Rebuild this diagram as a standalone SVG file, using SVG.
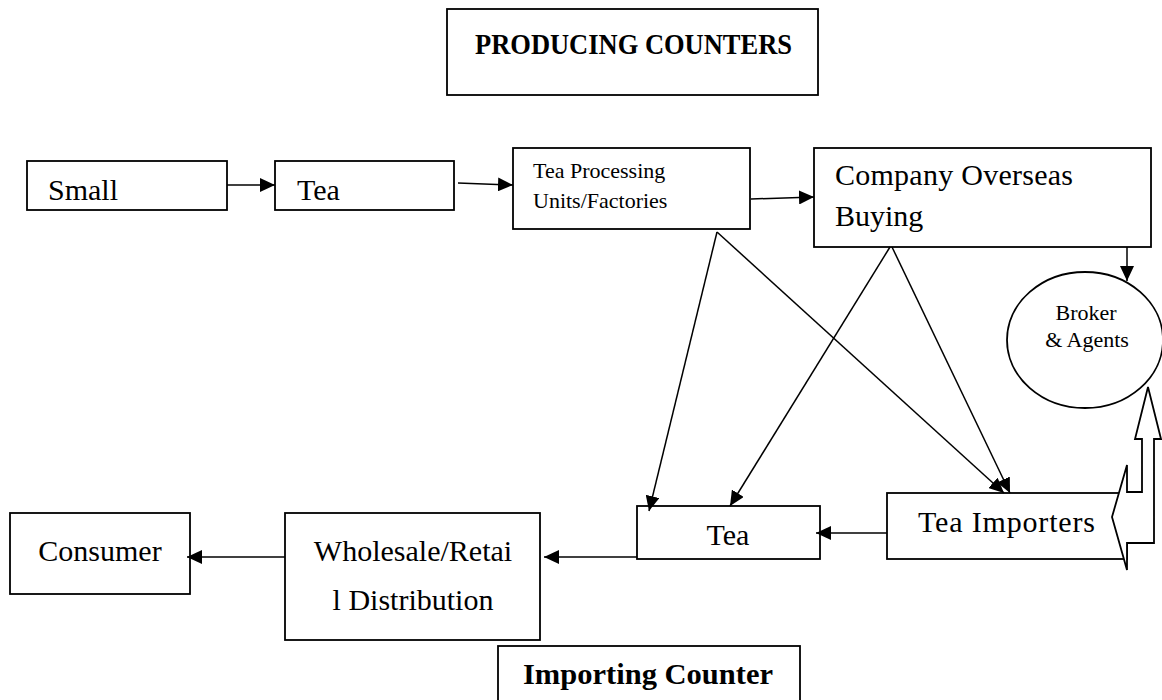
<svg xmlns="http://www.w3.org/2000/svg" width="1162" height="700" viewBox="0 0 1162 700">
<style>
.box{fill:#fff;stroke:#000;stroke-width:1.8}
.t{font-family:"Liberation Serif","Times New Roman",serif;fill:#000}
.big{font-size:30px}
.sm{font-size:22px}
.ttl{font-size:30px;font-weight:bold}
.c{stroke:#000;stroke-width:1.5;fill:none;marker-end:url(#ah)}
</style>
<defs>
<marker id="ah" markerUnits="userSpaceOnUse" markerWidth="16" markerHeight="14" refX="15" refY="7" orient="auto">
<path d="M0,0 L15,7 L0,14 z" fill="#000"/>
</marker>
</defs>
<rect width="1162" height="700" fill="#fff"/>
<g id="producing-counters">
<rect class="box" x="447" y="9" width="371" height="86"/>
<text class="t ttl" x="475" y="54" textLength="317" lengthAdjust="spacingAndGlyphs">PRODUCING COUNTERS</text>
</g>
<g id="importing-counter">
<rect class="box" x="498" y="646" width="302" height="70"/>
<text class="t ttl" x="523" y="684" textLength="250" lengthAdjust="spacingAndGlyphs">Importing Counter</text>
</g>
<g id="small">
<rect class="box" x="27" y="161" width="200" height="49"/>
<text class="t big" x="48" y="200">Small</text>
</g>
<g id="tea-top">
<rect class="box" x="275" y="161" width="179" height="49"/>
<text class="t big" x="297" y="200">Tea</text>
</g>
<g id="tea-processing">
<rect class="box" x="513" y="148" width="237" height="81"/>
<text class="t sm" x="533" y="178">Tea Processing</text>
<text class="t sm" x="533" y="208">Units/Factories</text>
</g>
<g id="company-overseas">
<rect class="box" x="814" y="148" width="337" height="99"/>
<text class="t big" x="835" y="185" textLength="238">Company Overseas</text>
<text class="t big" x="835" y="226">Buying</text>
</g>
<g id="broker">
<ellipse class="box" cx="1085" cy="340" rx="78" ry="68"/>
<text class="t sm" x="1086" y="320" text-anchor="middle">Broker</text>
<text class="t sm" x="1087" y="347" text-anchor="middle">&amp; Agents</text>
</g>
<g id="tea-importers">
<rect class="box" x="887" y="493" width="240" height="66"/>
<polygon class="box" points="1148,387 1161,439 1154,439 1154,543 1127,543 1127,570 1112,517 1127,465 1127,492 1142,492 1142,439 1135,439"/>
<text class="t big" x="918" y="532" textLength="177">Tea Importers</text>
</g>
<g id="tea-bottom">
<rect class="box" x="637" y="506" width="183" height="53"/>
<text class="t big" x="728" y="545" text-anchor="middle">Tea</text>
</g>
<g id="wholesale">
<rect class="box" x="285" y="513" width="255" height="127"/>
<text class="t big" x="413" y="561" text-anchor="middle">Wholesale/Retai</text>
<text class="t big" x="413" y="610" text-anchor="middle">l Distribution</text>
</g>
<g id="consumer">
<rect class="box" x="10" y="513" width="180" height="81"/>
<text class="t big" x="100" y="561" text-anchor="middle">Consumer</text>
</g>
<g id="connectors">
<line class="c" x1="227" y1="185" x2="275" y2="185"/>
<line class="c" x1="458" y1="183" x2="513" y2="185"/>
<line class="c" x1="751" y1="199" x2="814" y2="197"/>
<line class="c" x1="1127" y1="247" x2="1127" y2="281"/>
<line class="c" x1="717" y1="232" x2="649" y2="511"/>
<line class="c" x1="717" y1="232" x2="1004" y2="493"/>
<line class="c" x1="890" y1="247" x2="730" y2="506"/>
<line class="c" x1="892" y1="247" x2="1010" y2="493"/>
<line class="c" x1="887" y1="533" x2="816" y2="533"/>
<line class="c" x1="637" y1="557" x2="544" y2="557"/>
<line class="c" x1="285" y1="557" x2="187" y2="557"/>
</g>
</svg>
